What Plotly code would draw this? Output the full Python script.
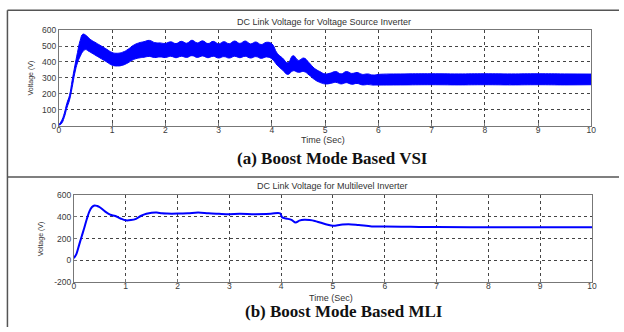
import plotly.graph_objects as go

W, H = 624, 332

# ---- (a) VSI DC link voltage: band envelope (lower / upper) ----
vsi_t = [0.0, 0.05, 0.1, 0.15, 0.2, 0.25, 0.3, 0.35, 0.4, 0.45, 0.5, 0.55, 0.6, 0.7, 0.8, 0.9,
         1.0, 1.1, 1.2, 1.3, 1.4, 1.5, 1.6, 1.7, 1.8, 1.9, 2.0, 2.1, 2.2, 2.3, 2.4, 2.5, 2.6,
         2.7, 2.8, 2.9, 3.0, 3.1, 3.2, 3.3, 3.4, 3.5, 3.6, 3.7, 3.8, 3.9, 4.0, 4.1, 4.2, 4.3,
         4.4, 4.5, 4.6, 4.7, 4.8, 4.9, 5.0, 5.1, 5.2, 5.3, 5.4, 5.5, 5.6, 5.7, 5.8, 5.9, 6.0,
         6.5, 7.0, 7.5, 8.0, 8.5, 9.0, 9.5, 10.0]
vsi_low = [0, 12, 50, 110, 160, 240, 330, 395, 435, 465, 478, 470, 460, 440, 420, 400,
           380, 375, 380, 395, 415, 425, 430, 435, 428, 432, 428, 436, 427, 436, 429, 440, 429,
           438, 427, 436, 425, 434, 425, 436, 427, 436, 425, 434, 423, 432, 420, 380, 350, 322,
           345, 335, 340, 318, 290, 272, 262, 265, 272, 262, 270, 260, 265, 256, 258, 255, 255,
           256, 257, 256, 257, 256, 257, 256, 257]
vsi_up = [5, 30, 75, 140, 190, 285, 375, 460, 535, 575, 570, 555, 540, 520, 500, 480,
          460, 455, 462, 480, 505, 520, 528, 536, 522, 520, 517, 527, 516, 530, 518, 537, 520,
          533, 516, 530, 514, 528, 515, 532, 517, 532, 514, 526, 510, 524, 515, 455, 425, 395,
          440, 410, 425, 395, 360, 340, 325, 330, 340, 325, 340, 328, 334, 322, 325, 318, 322,
          325, 326, 325, 326, 325, 326, 325, 324]

# ---- (b) MLI DC link voltage ----
mli_t = [0.0, 0.05, 0.1, 0.15, 0.2, 0.25, 0.3, 0.35, 0.4, 0.45, 0.5, 0.6, 0.7, 0.8, 0.9,
         1.0, 1.1, 1.2, 1.3, 1.4, 1.5, 1.6, 1.7, 1.8, 2.0, 2.2, 2.4, 2.6, 2.8, 3.0, 3.2,
         3.5, 3.8, 3.98, 4.02, 4.1, 4.2, 4.28, 4.35, 4.45, 4.55, 4.65, 4.75, 4.9, 5.0,
         5.15, 5.3, 5.5, 5.75, 6.0, 6.5, 7.0, 8.0, 9.0, 10.0]
mli_v = [20, 60, 140, 220, 297, 380, 450, 490, 505, 500, 488, 450, 420, 408, 385,
         368, 370, 382, 410, 428, 438, 440, 432, 430, 430, 433, 440, 432, 428, 425, 428,
         425, 428, 432, 395, 385, 372, 348, 365, 373, 370, 362, 348, 327, 318,
         327, 333, 325, 312, 312, 308, 306, 305, 305, 305]

x_ticks = list(range(0, 11))
y_ticks_a = [0, 100, 200, 300, 400, 500, 600]
y_ticks_b = [-200, 0, 200, 400, 600]
y_ticktext_b = ["-200", "0", "200", "400", "600"]

title_a = "DC Link Voltage for Voltage Source Inverter"
title_b = "DC Link Voltage for Multilevel Inverter"
caption_a = "(a) Boost Mode Based VSI"
caption_b = "(b) Boost Mode Based MLI"
xlabel = "Time (Sec)"
ylabel = "Voltage (V)"

BLUE = "#0000ff"

fig = go.Figure()
fig.add_trace(go.Scatter(x=vsi_t, y=vsi_up, mode="lines",
                         line=dict(color=BLUE, width=1, shape="spline", smoothing=1.3),
                         xaxis="x", yaxis="y", showlegend=False, hoverinfo="skip"))
fig.add_trace(go.Scatter(x=vsi_t, y=vsi_low, mode="lines",
                         line=dict(color=BLUE, width=1, shape="spline", smoothing=1.3),
                         fill="tonexty", fillcolor=BLUE,
                         xaxis="x", yaxis="y", showlegend=False, hoverinfo="skip"))
fig.add_trace(go.Scatter(x=mli_t, y=mli_v, mode="lines",
                         line=dict(color=BLUE, width=2, shape="spline"),
                         xaxis="x2", yaxis="y2", showlegend=False, hoverinfo="skip"))

def px_x(p):
    return p / W

def px_y(p):
    return 1 - p / H

tickfont = dict(family="Liberation Sans, Arial, sans-serif", size=8.5, color="#3a3a3a")
common_ax = dict(showline=True, mirror=True, linecolor="#777", linewidth=1,
                 showgrid=True, gridcolor="#444", griddash="dot", gridwidth=1,
                 ticks="inside", ticklen=3, tickcolor="#777", tickfont=tickfont,
                 zeroline=False, fixedrange=True)

fig.update_layout(
    width=W, height=H, margin=dict(l=0, r=0, t=0, b=0),
    paper_bgcolor="white", plot_bgcolor="white",
    xaxis=dict(domain=[px_x(57.5), px_x(596)], range=[0, 10], tickvals=x_ticks,
               anchor="y", ticklabelstandoff=-4, **common_ax),
    yaxis=dict(domain=[px_y(124.3), px_y(26)], range=[0, 600], tickvals=y_ticks_a,
               anchor="x", **common_ax),
    xaxis2=dict(domain=[px_x(72.7), px_x(596.7)], range=[0, 10], tickvals=x_ticks,
                anchor="y2", ticklabelstandoff=-4, **common_ax),
    yaxis2=dict(domain=[px_y(285.7), px_y(196)], range=[-200, 600], tickvals=y_ticks_b,
                ticktext=y_ticktext_b, anchor="x2", **common_ax),
)

small = dict(family="Liberation Sans, Arial, sans-serif", size=9, color="#333")
cap = dict(family="Liberation Serif, Times New Roman, serif", size=17, color="#111")
anns = [
    dict(text=title_a, x=px_x(326), y=px_y(18), font=small),
    dict(text=title_b, x=px_x(334.5), y=px_y(187), font=small),
    dict(text=xlabel, x=px_x(325), y=px_y(139.5), font=small),
    dict(text=xlabel, x=px_x(333), y=px_y(302), font=small),
    dict(text=ylabel, x=px_x(29), y=px_y(75), font=dict(small, size=7), textangle=-90),
    dict(text=ylabel, x=px_x(39), y=px_y(241), font=dict(small, size=7), textangle=-90),
    dict(text="<b>" + caption_a + "</b>", x=px_x(334), y=px_y(158), font=cap),
    dict(text="<b>" + caption_b + "</b>", x=px_x(346), y=px_y(316.5), font=cap),
]
for a in anns:
    a.update(xref="paper", yref="paper", showarrow=False, xanchor="center", yanchor="middle")
fig.update_layout(annotations=anns)

frame = dict(color="#555", width=1.5)
fig.update_layout(shapes=[
    dict(type="line", xref="paper", yref="paper", x0=px_x(5.5), x1=1, y0=px_y(5.5), y1=px_y(5.5), line=frame),
    dict(type="line", xref="paper", yref="paper", x0=px_x(5.5), x1=1, y0=px_y(177.3), y1=px_y(177.3), line=frame),
    dict(type="line", xref="paper", yref="paper", x0=px_x(5.5), x1=px_x(5.5), y0=0, y1=px_y(5.5), line=frame),
])

fig.write_html("out.html")
